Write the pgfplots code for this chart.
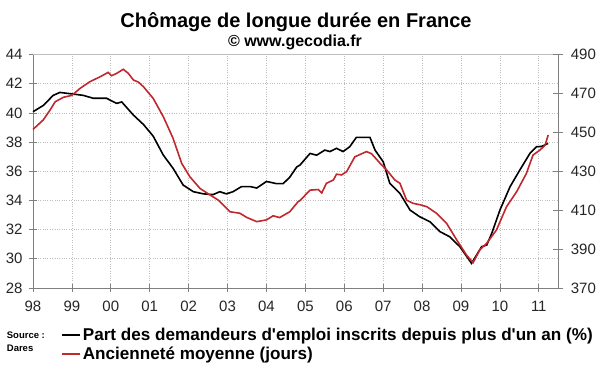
\documentclass[border=0pt]{standalone}
\usepackage{fontspec}
\setmainfont{Liberation Sans}[Ligatures=TeXReset]
\usepackage{pgfplots}
\pgfplotsset{compat=1.18}
\definecolor{redline}{RGB}{192,40,45}
\definecolor{axgray}{RGB}{128,128,128}
\definecolor{gridgray}{RGB}{190,190,190}
\begin{document}
\begin{tikzpicture}
\useasboundingbox (0,0) rectangle (600bp,372bp);
\fill[white] (0,0) rectangle (600bp,372bp);
\node[anchor=base, font=\fontsize{20bp}{22bp}\selectfont\bfseries] at (296bp,344.7bp) {Chômage de longue durée en France};
\node[anchor=base, font=\fontsize{16bp}{18bp}\selectfont\bfseries] at (295bp,325bp) {© www.gecodia.fr};
\node[anchor=base west, font=\fontsize{9.5bp}{11bp}\selectfont\bfseries, inner sep=0pt] at (6.7bp,34bp) {Source :};
\node[anchor=base west, font=\fontsize{9.5bp}{11bp}\selectfont\bfseries, inner sep=0pt] at (6.7bp,20.7bp) {Dares};
\begin{axis}[
  scale only axis, width=525.3bp, height=233.5bp,
  at={(33bp,84bp)}, anchor=south west,
  xmin=1998, xmax=2011.5, ymin=28, ymax=44,
  axis x line*=bottom, axis y line*=left,
  axis line style={draw=axgray, line width=0.8bp},
  xtick={1998,1999,...,2011},
  xticklabels={98,99,00,01,02,03,04,05,06,07,08,09,10,11},
  minor x tick num=3,
  ytick={28,30,...,44},
  tick align=center,
  major tick length=8bp, minor tick length=5bp,
  every tick/.style={draw=axgray, line width=0.7bp},
  xmajorgrids, ymajorgrids,
  major grid style={draw=gridgray, dotted, line width=0.7bp},
  /pgf/number format/assume math mode=true,
  tick label style={font=\fontsize{15bp}{17bp}\selectfont, text=black!85},
  xticklabel style={yshift=-6bp},
  yticklabel style={xshift=-3bp},
  clip=false,
]
\draw[gridgray, line width=0.7bp] (rel axis cs:0,1) -- (rel axis cs:1,1);
\addplot[black, line width=1.6bp] coordinates {
(1998.0,40.08) (1998.26,40.5) (1998.52,41.2) (1998.69,41.4) (1999.0,41.3)
(1999.29,41.2) (1999.55,41.0) (1999.89,41.0) (2000.15,40.65) (2000.28,40.75)
(2000.58,39.85) (2000.84,39.2) (2001.09,38.4) (2001.35,37.1) (2001.6,36.2)
(2001.86,35.05) (2002.12,34.6) (2002.38,34.45) (2002.63,34.4) (2002.8,34.6)
(2002.97,34.45) (2003.14,34.6) (2003.36,34.95) (2003.58,34.95) (2003.75,34.85)
(2004.0,35.3) (2004.26,35.15) (2004.43,35.15) (2004.6,35.6) (2004.78,36.3)
(2004.86,36.42) (2005.12,37.22) (2005.29,37.1) (2005.50,37.45) (2005.63,37.35)
(2005.80,37.57) (2005.97,37.35) (2006.14,37.68) (2006.31,38.32) (2006.66,38.32)
(2006.79,37.45) (2007.0,36.65) (2007.17,35.17) (2007.43,34.48) (2007.69,33.34)
(2007.94,32.88) (2008.20,32.54) (2008.46,31.86) (2008.71,31.51) (2008.97,30.83)
(2009.27,29.69) (2009.53,30.83) (2009.66,30.94) (2009.79,31.75) (2010.0,33.34)
(2010.26,34.94) (2010.51,36.08) (2010.77,37.22) (2010.94,37.68) (2011.07,37.7)
(2011.24,37.91)
};
\end{axis}
\begin{axis}[
  scale only axis, width=525.3bp, height=233.5bp,
  at={(33bp,84bp)}, anchor=south west,
  xmin=1998, xmax=2011.5, ymin=370, ymax=490,
  axis x line=none, axis y line*=right,
  axis line style={draw=axgray, line width=0.8bp},
  ytick={370,390,...,490},
  tick align=center, major tick length=10bp,
  every tick/.style={draw=axgray, line width=0.7bp},
  /pgf/number format/assume math mode=true,
  tick label style={font=\fontsize{15bp}{17bp}\selectfont, text=black!85},
  yticklabel style={xshift=4bp},
  clip=false,
  legend style={at={(0.0535,-0.1627)}, anchor=north west, draw=none, fill=none,
    font=\fontsize{17.1bp}{19bp}\selectfont\bfseries, row sep=1bp, inner sep=0pt},
  legend cell align=left,
  legend image code/.code={\draw[#1] (0bp,0bp) -- (18bp,0bp);},
]
\addlegendimage{black, line width=1.6bp}
\addlegendentry{Part des demandeurs d'emploi inscrits depuis plus d'un an (\%)}
\addplot[redline, line width=1.6bp] coordinates {
(1998.0,451.5) (1998.26,456.3) (1998.44,461.5) (1998.57,465.7) (1998.78,468.0)
(1999.0,469.0) (1999.21,472.6) (1999.46,476.0) (1999.72,478.5) (1999.93,480.8)
(2000.02,479.1) (2000.15,480.3) (2000.32,482.4) (2000.45,480.3) (2000.58,476.9)
(2000.71,475.8) (2000.84,473.4) (2001.09,467.4) (2001.35,458.0) (2001.6,446.9)
(2001.82,434.1) (2002.03,427.2) (2002.29,421.2) (2002.55,417.8) (2002.76,415.2)
(2003.06,409.2) (2003.32,408.4) (2003.49,406.3) (2003.75,404.1) (2004.0,405.0)
(2004.17,407.1) (2004.34,406.2) (2004.6,409.2) (2004.81,414.3) (2004.86,414.9)
(2005.12,420.3) (2005.33,420.6) (2005.42,418.8) (2005.54,423.8) (2005.72,425.5)
(2005.80,428.5) (2005.93,428.1) (2006.06,429.8) (2006.27,437.4) (2006.57,440.1)
(2006.70,439.0) (2006.92,434.1) (2007.09,430.6) (2007.30,425.5) (2007.43,423.8)
(2007.60,415.2) (2007.77,413.5) (2007.94,412.8) (2008.12,411.8) (2008.37,408.4)
(2008.63,403.2) (2008.89,394.7) (2009.14,386.95) (2009.31,383.0) (2009.48,389.5)
(2009.66,393.0) (2009.91,399.8) (2010.17,411.8) (2010.43,419.5) (2010.68,428.9)
(2010.85,438.3) (2011.03,440.9) (2011.16,443.4) (2011.24,448.6)
};
\addlegendentry{Ancienneté moyenne (jours)}
\end{axis}
\end{tikzpicture}
\end{document}
